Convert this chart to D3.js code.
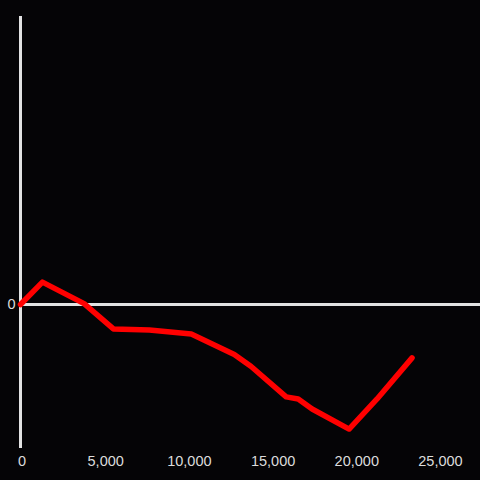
<!DOCTYPE html>
<html>
<head>
<meta charset="utf-8">
<script src="https://cdn.jsdelivr.net/npm/d3@7"></script>
<style>
  html, body { margin: 0; padding: 0; background: #050406; }
  svg { display: block; }
  text { font-family: "Liberation Sans", Arial, sans-serif; font-size: 14.5px; fill: #dcdcdc; }
</style>
</head>
<body>
<svg width="480" height="480"></svg>
<script>
'use strict';
(() => {
  const xValues = [0, 1310, 3800, 5550, 7700, 10200, 12770, 13780, 15870, 16590, 17420, 19630, 21300, 23390];
  const yValues = [0, 7.8, 0.3, -8.5, -8.9, -10.3, -17.4, -21.6, -32.2, -32.9, -36.4, -43.4, -32.9, -18.6];
  const xTicks = [0, 5000, 10000, 15000, 20000, 25000];
  const yTicks = [0];

  const svg = d3.select('svg');
  const width = 480, height = 480;
  svg.append('rect').attr('width', width).attr('height', height).attr('fill', '#050406');

  const x = d3.scaleLinear().domain([0, 27450]).range([20.5, 480]);
  const y = d3.scaleLinear().domain([-50, 100.5]).range([448, 16]);

  // y axis
  svg.append('line')
    .attr('x1', x(0)).attr('x2', x(0))
    .attr('y1', y.range()[1]).attr('y2', y.range()[0])
    .attr('stroke', '#e2e2e2').attr('stroke-width', 3);

  // zero line
  svg.append('line')
    .attr('x1', x(0)).attr('x2', width)
    .attr('y1', y(0)).attr('y2', y(0))
    .attr('stroke', '#e2e2e2').attr('stroke-width', 3);

  svg.selectAll('text.xtick').data(xTicks).enter().append('text')
    .attr('class', 'xtick')
    .attr('x', d => x(d) + 1.5)
    .attr('y', 466)
    .attr('text-anchor', 'middle')
    .text(d3.format(','));

  svg.selectAll('text.ytick').data(yTicks).enter().append('text')
    .attr('class', 'ytick')
    .attr('x', 15.5)
    .attr('y', d => y(d) + 5)
    .attr('text-anchor', 'end')
    .text(d => d);

  const pts = xValues.map((d, i) => [d, yValues[i]]);
  svg.append('path')
    .datum(pts)
    .attr('fill', 'none')
    .attr('stroke', '#ff0000')
    .attr('stroke-width', 5.5)
    .attr('stroke-linejoin', 'round')
    .attr('stroke-linecap', 'round')
    .attr('d', d3.line().x(d => x(d[0])).y(d => y(d[1])));
})();
</script>
</body>
</html>
